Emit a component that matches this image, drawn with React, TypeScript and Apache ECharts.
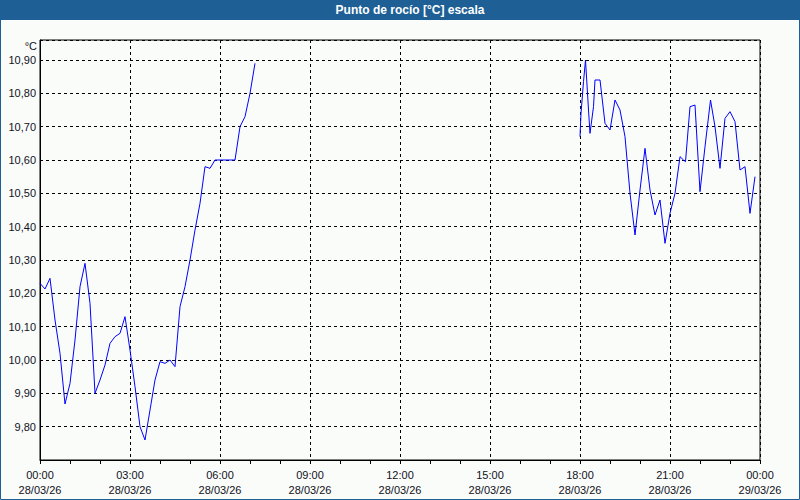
import React, { useEffect, useRef } from "react";
import * as echarts from "echarts";

const TITLE = "Punto de rocío [°C] escala";
const UNIT = "°C";

// minutes since 28/03/26 00:00
const morningTimes = [
  0, 10, 20, 30, 40, 50, 60, 70, 80, 90, 100, 110, 120, 130, 140, 150, 160, 170, 180, 190,
  200, 210, 220, 230, 240, 250, 260, 270, 280, 290, 300, 310, 320, 330, 340, 350, 360, 370,
  380, 390, 400, 410, 420, 430,
];
const morningValues = [
  10.23, 10.213, 10.245, 10.12, 10.02, 9.868, 9.93, 10.06, 10.22, 10.29, 10.17, 9.9, 9.94,
  9.985, 10.05, 10.07, 10.08, 10.13, 10.03, 9.92, 9.8, 9.76, 9.85, 9.94, 9.995, 9.99, 10.0,
  9.98, 10.16, 10.22, 10.3, 10.39, 10.47, 10.58, 10.575, 10.6, 10.6, 10.6, 10.6, 10.6, 10.7,
  10.73, 10.8, 10.89,
];

const eveningTimes = [
  1080, 1082, 1087, 1091, 1097, 1100, 1107, 1110, 1120, 1130, 1140, 1150, 1160, 1170, 1180,
  1190, 1200, 1210, 1220, 1230, 1240, 1250, 1260, 1270, 1280, 1287, 1291, 1300, 1310, 1320,
  1330, 1341, 1350, 1360, 1370, 1380, 1390, 1400, 1410, 1420, 1430,
];
const eveningValues = [
  10.67, 10.74, 10.835, 10.9, 10.75, 10.68, 10.76, 10.84, 10.84, 10.71, 10.69, 10.78, 10.75,
  10.67, 10.5, 10.375, 10.51, 10.635, 10.51, 10.435, 10.48, 10.35, 10.44, 10.5, 10.61, 10.6,
  10.595, 10.76, 10.765, 10.505, 10.64, 10.78, 10.7, 10.575, 10.725, 10.745, 10.715, 10.57,
  10.58, 10.44, 10.55,
];

const dayLabels = ["28/03/26", "29/03/26"];

const FONT = "Liberation Sans";
const TEXT = "#111122";
const BAR = "#1e5f96";

function pad(n: number) {
  return n < 10 ? "0" + n : "" + n;
}

export default function App() {
  const ref = useRef<HTMLDivElement>(null);
  useEffect(() => {
    if (!ref.current) return;
    const chart = echarts.init(ref.current, null, { renderer: "svg" });
    const morning = morningTimes.map((t, i) => [t, morningValues[i]]);
    const evening = eveningTimes.map((t, i) => [t, eveningValues[i]]);
    chart.setOption({
      animation: false,
      backgroundColor: "#fafcfa",
      textStyle: { fontFamily: FONT },
      grid: {
        left: 40,
        right: 40,
        top: 40,
        bottom: 40,
        show: true,
        borderColor: "#000",
        borderWidth: 1,
        containLabel: false,
      },
      graphic: [
        {
          type: "rect",
          shape: { x: 0, y: 0, width: 800, height: 20 },
          style: { fill: BAR },
          silent: true,
        },
        {
          type: "rect",
          shape: { x: 0.5, y: 0.5, width: 799, height: 499 },
          style: { fill: "none", stroke: BAR, lineWidth: 1 },
          silent: true,
        },
        {
          type: "text",
          x: 410,
          y: 10,
          style: {
            text: TITLE,
            fill: "#fff",
            font: "bold 12px " + FONT,
            align: "center",
            verticalAlign: "middle",
          },
        },
        {
          type: "text",
          x: 37,
          y: 46,
          style: {
            text: UNIT,
            fill: TEXT,
            font: "11px " + FONT,
            align: "right",
            verticalAlign: "middle",
          },
        },
      ],
      xAxis: {
        type: "value",
        min: 0,
        max: 1440,
        interval: 180,
        axisLine: { show: true, lineStyle: { color: "#000", width: 1 } },
        axisTick: { show: true, length: 4, lineStyle: { color: "#000" } },
        minorTick: { show: true, splitNumber: 3, length: 4, lineStyle: { color: "#000" } },
        splitLine: { show: true, lineStyle: { color: "#000", type: [3, 3], width: 1 } },
        axisLabel: {
          color: TEXT,
          fontSize: 11,
          fontFamily: FONT,
          lineHeight: 15,
          margin: 7,
          showMinLabel: true,
          showMaxLabel: true,
          formatter: (v: number) => {
            const h = Math.floor(v / 60) % 24;
            const m = Math.round(v % 60);
            const d = v >= 1440 ? dayLabels[1] : dayLabels[0];
            return pad(h) + ":" + pad(m) + "\n" + d;
          },
        },
      },
      yAxis: {
        type: "value",
        min: 9.7,
        max: 10.96,
        interval: 0.1,
        axisLine: { show: true, lineStyle: { color: "#000", width: 1 } },
        axisTick: { show: false },
        splitLine: { show: true, lineStyle: { color: "#000", type: [3, 3], width: 1 } },
        axisLabel: {
          color: TEXT,
          fontSize: 11,
          fontFamily: FONT,
          margin: 4,
          showMinLabel: false,
          showMaxLabel: false,
          formatter: (v: number) => v.toFixed(2).replace(".", ","),
        },
      },
      series: [
        {
          type: "line",
          data: morning,
          showSymbol: false,
          symbol: "none",
          lineStyle: { color: "#0000ff", width: 1 },
          itemStyle: { color: "#0000ff" },
        },
        {
          type: "line",
          data: evening,
          showSymbol: false,
          symbol: "none",
          lineStyle: { color: "#0000ff", width: 1 },
          itemStyle: { color: "#0000ff" },
        },
      ],
    });
    return () => chart.dispose();
  }, []);
  return (
    <div
      ref={ref}
      style={{ position: "fixed", left: 0, top: 0, width: 800, height: 500 }}
    />
  );
}
